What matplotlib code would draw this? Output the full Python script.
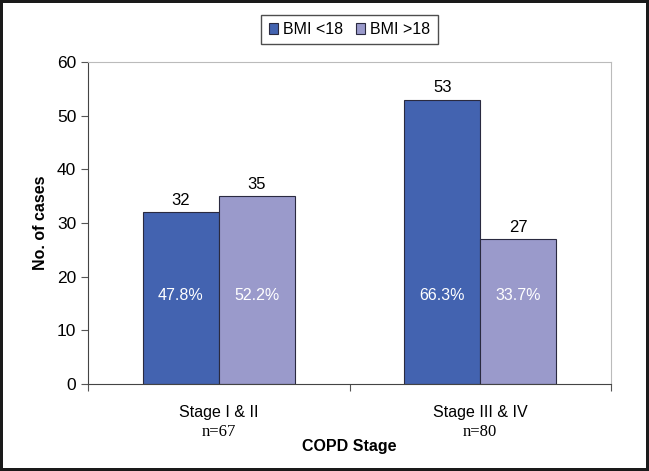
import numpy as np
import matplotlib.pyplot as plt

stages = ['Stage I & II', 'Stage III & IV']
n_totals = [67, 80]
bmi_low = [32, 53]
bmi_high = [35, 27]
pct_low = ['47.8%', '66.3%']
pct_high = ['52.2%', '33.7%']
series_names = ['BMI <18', 'BMI >18']

plt.rcParams['font.family'] = ['Liberation Sans', 'DejaVu Sans']

fig = plt.figure(figsize=(6.49, 4.71), dpi=100)
fig.patch.set_edgecolor('#1a1a1a')
fig.patch.set_linewidth(3)
ax = fig.add_axes([88/649, 1-384/471, (611-88)/649, (384-62)/471])

x = np.arange(len(stages))
w = 0.29
b1 = ax.bar(x - w/2, bmi_low, w, color='#4363b0', edgecolor='#2a2a40', linewidth=0.8, label=series_names[0])
b2 = ax.bar(x + w/2, bmi_high, w, color='#9a9acb', edgecolor='#2a2a40', linewidth=0.8, label=series_names[1])

# value on top, share of the stage inside the bar
for bars, vals, pcts in [(b1, bmi_low, pct_low), (b2, bmi_high, pct_high)]:
    for b, v, p in zip(bars, vals, pcts):
        cx = b.get_x() + b.get_width()/2
        ax.text(cx, v + 0.8, str(v), ha='center', va='bottom', fontsize=12)
        ax.text(cx, 16.4, p, ha='center', va='center', fontsize=11.5, color='white')

ax.set_xlim(-0.5, 1.5)
ax.set_ylim(0, 60)
ax.set_yticks(range(0, 61, 10))
ax.tick_params(axis='y', labelsize=12.5, length=5, direction='out', color='#555555')
ax.set_xticks([-0.5, 0.5, 1.5])
ax.set_xticklabels(['', '', ''])
ax.tick_params(axis='x', length=5, color='#555555')

for i, (s, n) in enumerate(zip(stages, n_totals)):
    ax.text(i, -5.4, s, ha='center', va='center', fontsize=11.5)
    ax.text(i, -8.9, f'n={n}', ha='center', va='center', fontsize=12,
            family=['Liberation Serif', 'DejaVu Serif'])

ax.text(0.5, -11.6, 'COPD Stage', ha='center', va='center', fontsize=11.5, fontweight='bold')
ax.set_ylabel('No. of cases', fontsize=11.5, fontweight='bold', labelpad=6)

for side in ['top', 'right']:
    ax.spines[side].set_color('#bbbbbb')
for side in ['left', 'bottom']:
    ax.spines[side].set_color('#444444')

leg = ax.legend(loc='lower center', bbox_to_anchor=(0.5, 1.03), ncol=2, frameon=True,
                fancybox=False, edgecolor='#222222', fontsize=11.5, handlelength=0.6,
                handleheight=0.6, handletextpad=0.3, columnspacing=0.8, borderpad=0.45)
leg.get_frame().set_linewidth(1.0)

fig.savefig('out.png', dpi=100, edgecolor=fig.get_edgecolor())
